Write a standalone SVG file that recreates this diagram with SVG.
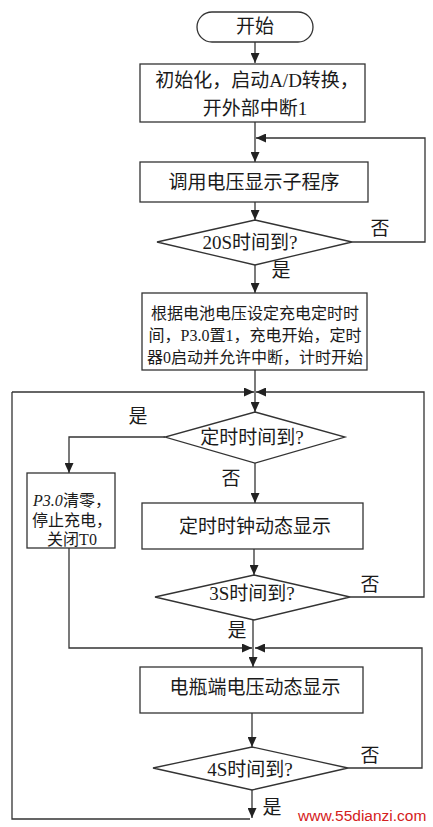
<svg xmlns="http://www.w3.org/2000/svg" width="433" height="827" viewBox="0 0 433 827">
<defs>
<marker id="ah" viewBox="0 0 10 9" refX="10" refY="4.5" markerWidth="10" markerHeight="9" markerUnits="userSpaceOnUse" orient="auto">
<path d="M0,0 L10,4.5 L0,9 z" fill="#222"/>
</marker>
<style>
.s{fill:#fff;stroke:#333;stroke-width:1.3}
.c{fill:none;stroke:#333;stroke-width:1.3;marker-end:url(#ah)}
.l{fill:none;stroke:#333;stroke-width:1.3}
.t{font-family:"Liberation Serif","Noto Sans CJK SC",serif;fill:#1a1a1a;text-anchor:middle}
.b{font-size:19px}
.m{font-size:16px}
.w{font-family:"Liberation Sans",Arial,sans-serif;font-size:15.5px;fill:#d42020}
</style>
</defs>
<rect width="433" height="827" fill="#fff"/>
<g id="connectors">
<path class="c" d="M255,42 V63"/>
<path class="c" d="M255,122 V162"/>
<path class="c" d="M352,242 H425 V138 H256"/>
<path class="c" d="M255,202 V220"/>
<path class="c" d="M255,265 V293"/>
<path class="c" d="M255,370 V412"/>
<path class="c" d="M12,392 H254"/>
<path class="c" d="M165,437 H69 V473"/>
<path class="c" d="M255,463 V503"/>
<path class="c" d="M254,549 V575"/>
<path class="c" d="M350,597 H424 V392 H256"/>
<path class="c" d="M69,548 V648 H252"/>
<path class="c" d="M253,620 V667"/>
<path class="c" d="M348,768 H422 V648 H255"/>
<path class="c" d="M252,713 V747"/>
<path class="c" d="M252,790 V818"/>
<path class="l" d="M250,819 H12 V392"/>
</g>
<g id="start">
<rect class="s" x="197" y="12" width="116" height="30" rx="15"/>
<text class="t b" x="255" y="33">开始</text>
</g>
<g id="init">
<rect class="s" x="140" y="64" width="225" height="58"/>
<text class="t b" x="257" y="87">初始化，启动A/D转换，</text>
<text class="t b" x="255" y="115">开外部中断1</text>
</g>
<g id="callDisplay">
<rect class="s" x="140" y="162" width="228" height="40"/>
<text class="t b" x="254" y="189">调用电压显示子程序</text>
</g>
<g id="check20s">
<polygon class="s" points="255,220 352,242 255,265 157,242"/>
<text class="t b" x="250" y="249">20S时间到?</text>
<text class="t b" x="380" y="235">否</text>
<text class="t b" x="281" y="277">是</text>
</g>
<g id="setTimer">
<rect class="s" x="142" y="293" width="225" height="77"/>
<text class="t m" x="255" y="319">根据电池电压设定充电定时时</text>
<text class="t m" x="255" y="341">间，P3.0置1，充电开始，定时</text>
<text class="t m" x="255" y="363">器0启动并允许中断，计时开始</text>
</g>
<g id="checkTimer">
<polygon class="s" points="255,412 345,437 255,463 165,437"/>
<text class="t b" x="252" y="444">定时时间到?</text>
<text class="t b" x="138" y="423">是</text>
<text class="t b" x="231" y="485">否</text>
</g>
<g id="stopCharge">
<rect class="s" x="27" y="473" width="88" height="75"/>
<text class="t m" x="72" y="506"><tspan font-style="italic">P3.0</tspan>清零，</text>
<text class="t m" x="72" y="526">停止充电，</text>
<text class="t m" x="72" y="545">关闭T0</text>
</g>
<g id="clockDisplay">
<rect class="s" x="142" y="503" width="221" height="46"/>
<text class="t b" x="255" y="533">定时时钟动态显示</text>
</g>
<g id="check3s">
<polygon class="s" points="254,575 350,597 254,620 155,597"/>
<text class="t b" x="252" y="600">3S时间到?</text>
<text class="t b" x="370" y="591">否</text>
<text class="t b" x="237" y="637">是</text>
</g>
<g id="batteryDisplay">
<rect class="s" x="140" y="667" width="223" height="46"/>
<text class="t b" x="255" y="694">电瓶端电压动态显示</text>
</g>
<g id="check4s">
<polygon class="s" points="252,747 348,768 252,790 153,768"/>
<text class="t b" x="250" y="776">4S时间到?</text>
<text class="t b" x="370" y="762">否</text>
<text class="t b" x="272" y="814">是</text>
</g>
<text class="w" x="298" y="821">www.55dianzi.com</text>
</svg>
